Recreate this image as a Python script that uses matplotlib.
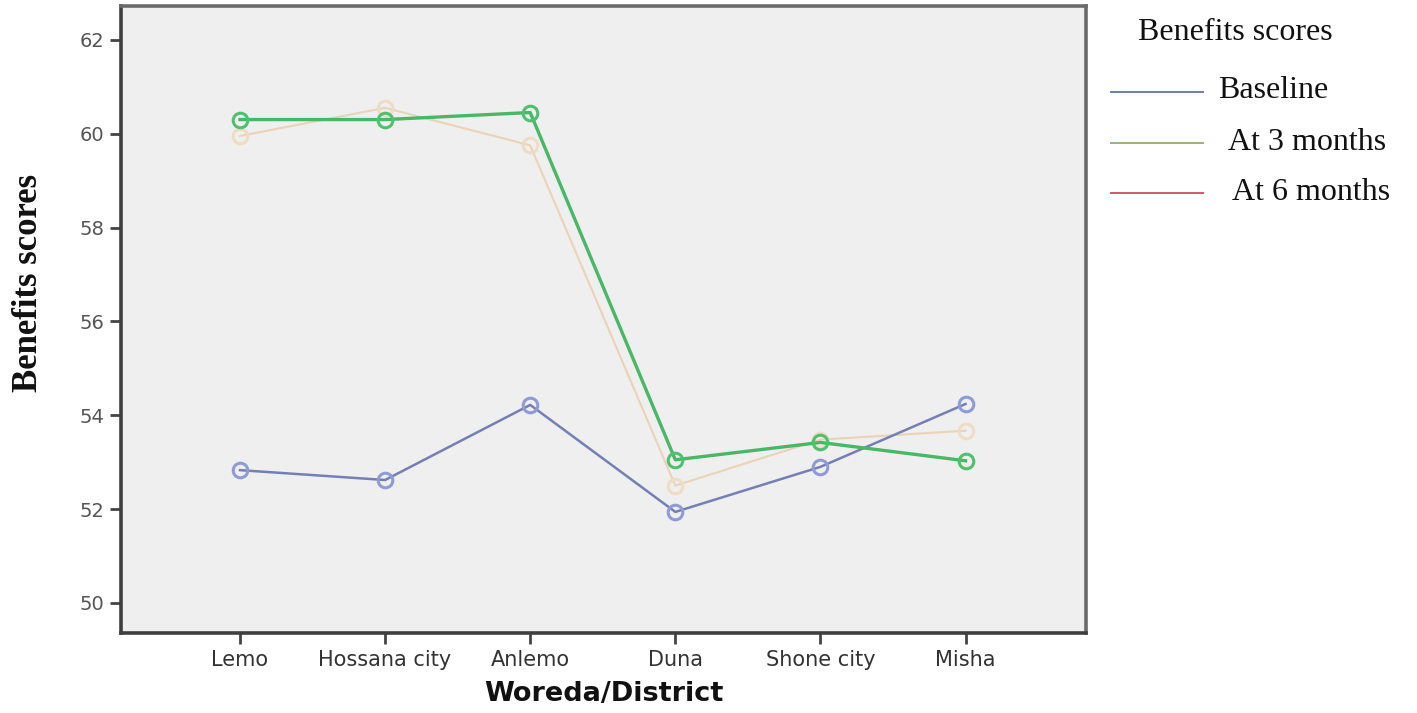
import matplotlib
matplotlib.use("Agg")
import matplotlib.pyplot as plt
from matplotlib.lines import Line2D

districts = ["Lemo", "Hossana city", "Anlemo", "Duna", "Shone city", "Misha"]
baseline = [52.83, 52.62, 54.22, 51.94, 52.90, 54.24]
at_3_months = [60.30, 60.30, 60.45, 53.05, 53.42, 53.03]
at_6_months = [59.95, 60.55, 59.75, 52.50, 53.48, 53.67]
y_ticks = [50, 52, 54, 56, 58, 60, 62]

legend_title = "Benefits scores"
legend_labels = ["Baseline", "At 3 months", "At 6 months"]

fig = plt.figure(figsize=(14.17, 7.13), dpi=100)
ax = fig.add_axes([0.0854, 0.1122, 0.6810, 0.8794])
ax.set_facecolor("#efefef")

x = list(range(len(districts)))
series = [
    (at_6_months, "#ead3b6", "#eedcc4", 1.5),
    (baseline, "#7480b4", "#8f9bd6", 1.8),
    (at_3_months, "#48b866", "#4fc06d", 2.4),
]
for vals, lc, mc, lw in series:
    ax.plot(x, vals, color=lc, lw=lw, marker="o", markersize=10.5,
            markerfacecolor="none", markeredgecolor=mc, markeredgewidth=2.2,
            zorder=3)

ax.set_xlim(-0.82, 5.83)
ax.set_ylim(49.36, 62.72)
ax.set_xticks(x)
ax.set_xticklabels(districts, fontsize=15, color="#333333",
                   family="DejaVu Sans")
ax.set_yticks(y_ticks)
ax.set_yticklabels([str(v) for v in y_ticks], fontsize=14, color="#555555",
                   family="DejaVu Sans")
ax.tick_params(axis="both", direction="out", length=8, width=2,
               color="#444444", pad=4)

for side in ["left", "bottom"]:
    ax.spines[side].set_color("#3f3f3f")
    ax.spines[side].set_linewidth(2.6)
for side in ["top", "right"]:
    ax.spines[side].set_color("#6a6a6a")
    ax.spines[side].set_linewidth(2.6)

ax.set_xlabel("Woreda/District", fontsize=19.5, fontweight="bold",
              family="DejaVu Sans", color="#111111", labelpad=8)

fig.text(0.020, 0.603, "Benefits scores", rotation=90, fontsize=25,
         fontweight="bold", family="Liberation Serif", va="center",
         ha="center", color="#111111")

# Legend drawn in figure coordinates
W, H = 1417, 713
fig.text(1138 / W, 1 - 33 / H, legend_title, fontsize=23,
         family="Liberation Serif", va="center", ha="left", color="#111111")
leg_colors = ["#6b7fa8", "#9bb07a", "#d05a6a"]
leg_y = [92, 143, 193]
leg_tx = [1218, 1228, 1232]
for lab, col, yy, tx in zip(legend_labels, leg_colors, leg_y, leg_tx):
    fig.add_artist(Line2D([1111 / W, 1203 / W], [1 - yy / H, 1 - yy / H],
                          color=col, lw=1.4, transform=fig.transFigure))
    fig.text(tx / W, 1 - (yy - 1) / H, lab, fontsize=23,
             family="Liberation Serif", va="center", ha="left",
             color="#111111")

fig.savefig("out.png", dpi=100)
